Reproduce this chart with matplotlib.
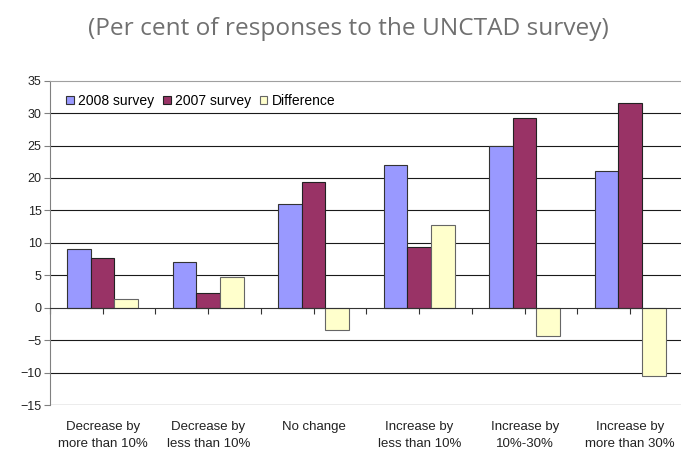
import matplotlib
matplotlib.use('Agg')
import matplotlib.pyplot as plt
import numpy as np

# survey categories and responses (per cent)
categories = ['Decrease by\nmore than 10%', 'Decrease by\nless than 10%', 'No change',
              'Increase by\nless than 10%', 'Increase by\n10%-30%', 'Increase by\nmore than 30%']
survey_2008 = [9.0, 7.0, 16.0, 22.0, 25.0, 21.0]
survey_2007 = [7.6, 2.2, 19.4, 9.3, 29.3, 31.5]
difference = [1.4, 4.8, -3.4, 12.7, -4.3, -10.5]
series_names = ['2008 survey', '2007 survey', 'Difference']
y_ticks = list(range(-15, 40, 5))

plt.rcParams['font.family'] = ['Liberation Sans', 'DejaVu Sans']

fig = plt.figure(figsize=(6.81, 4.5), dpi=100)
ax = fig.add_axes([0.0734, 0.1, 0.9295, 0.7207])

x = np.arange(len(categories))
w = 0.223
ax.bar(x - w, survey_2008, w, color='#9999FF', edgecolor='#333333', linewidth=0.8,
       label=series_names[0], zorder=3)
ax.bar(x, survey_2007, w, color='#993366', edgecolor='#222222', linewidth=0.8,
       label=series_names[1], zorder=3)
ax.bar(x + w, difference, w, color='#FFFFCC', edgecolor='#666666', linewidth=0.8,
       label=series_names[2], zorder=3)

ax.set_xlim(-0.5, len(categories) - 0.5)
ax.set_ylim(-15, 35)
ax.set_yticks(y_ticks)
ax.tick_params(axis='y', direction='out', length=4, width=0.8, color='#808080',
               labelsize=9, labelcolor='#222222', pad=2)

# horizontal grid lines
for v in y_ticks[1:-1]:
    if v != 0:
        ax.axhline(v, color='#1a1a1a', linewidth=0.8, zorder=1)
ax.axhline(-15, color='#a0a0a0', linewidth=1.0, zorder=1)

for s in ['top', 'right']:
    ax.spines[s].set_color('#a0a0a0')
ax.spines['left'].set_color('#808080')
ax.spines['bottom'].set_position(('data', 0))
ax.spines['bottom'].set_color('#333333')
ax.spines['bottom'].set_zorder(4)

ax.set_xticks(np.arange(-0.5, len(categories), 0.5))
ax.set_xticklabels([])
ax.tick_params(axis='x', direction='out', length=4, width=0.8, color='#333333')

for i, lab in enumerate(categories):
    ax.text(i, -0.05, lab, transform=ax.get_xaxis_transform(), ha='center', va='top',
            fontsize=9.5, color='#222222', linespacing=1.5)

ax.legend(loc='upper left', bbox_to_anchor=(0.012, 0.985), ncol=3, frameon=False,
          fontsize=10, handlelength=0.55, handleheight=0.55, handletextpad=0.35,
          columnspacing=0.6, borderaxespad=0.2)

fig.text(0.512, 0.936, '(Per cent of responses to the UNCTAD survey)', ha='center', va='center',
         fontsize=17.6, color='#707070', family=['Open Sans', 'DejaVu Sans'])

fig.savefig('out.png', dpi=100)
